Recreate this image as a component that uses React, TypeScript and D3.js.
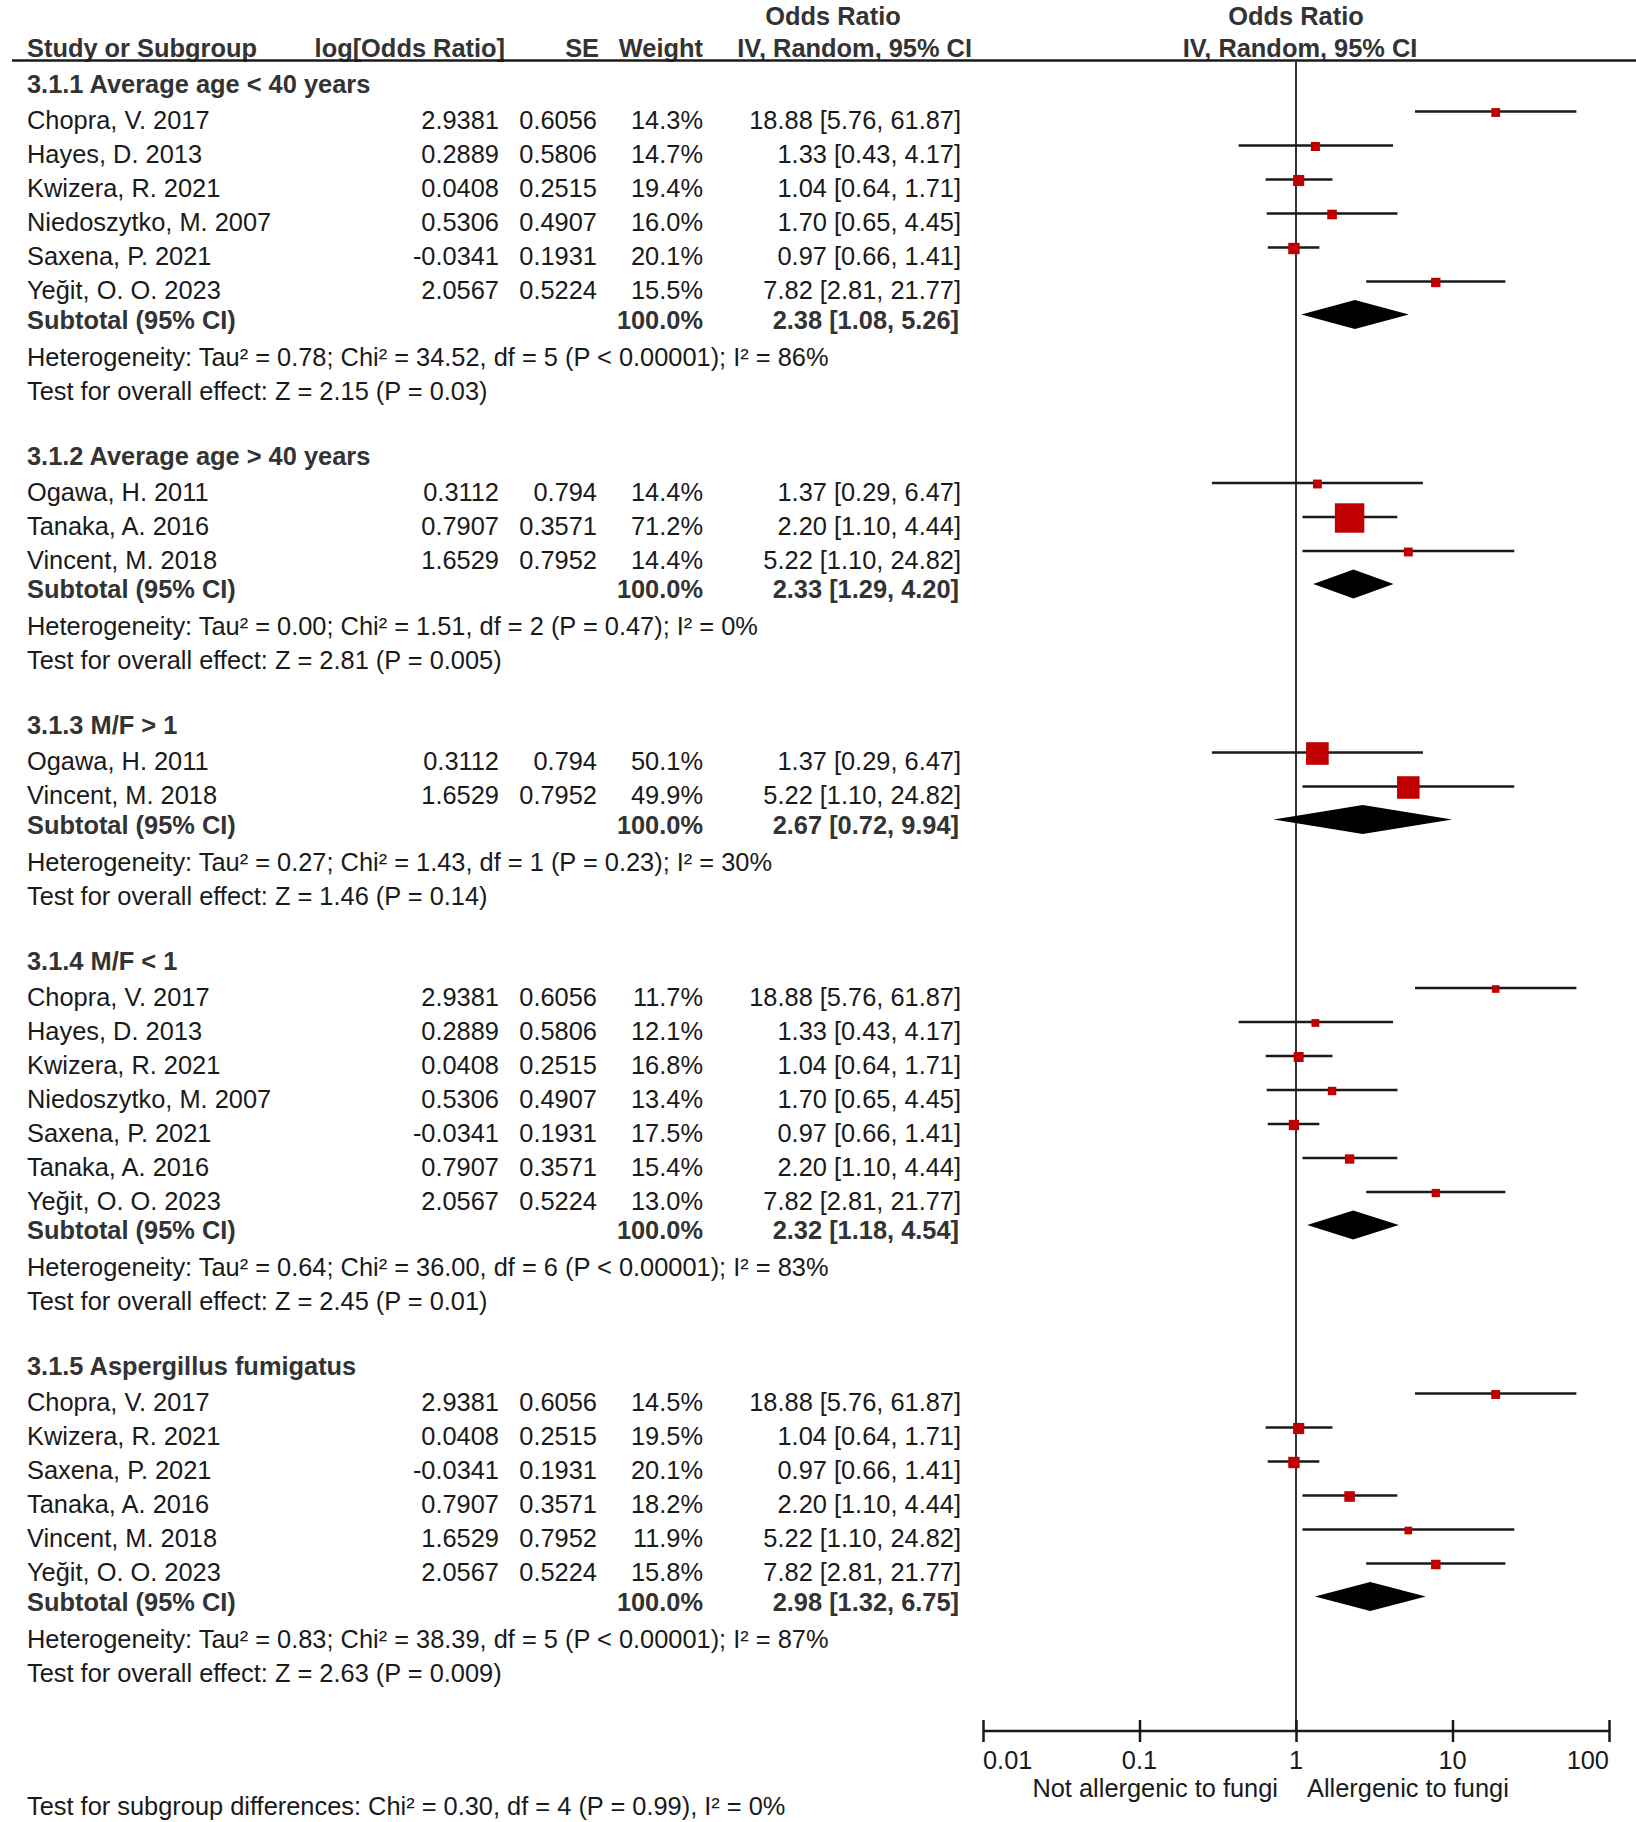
import { useEffect, useRef } from "react";
import * as d3 from "d3";

const STUDY_NAMES = [
  "Chopra, V. 2017",
  "Hayes, D. 2013",
  "Kwizera, R. 2021",
  "Niedoszytko, M. 2007",
  "Saxena, P. 2021",
  "Yeğit, O. O. 2023",
  "Ogawa, H. 2011",
  "Tanaka, A. 2016",
  "Vincent, M. 2018",
];
const LOG_OR = ["2.9381", "0.2889", "0.0408", "0.5306", "-0.0341", "2.0567", "0.3112", "0.7907", "1.6529"];
const SE = ["0.6056", "0.5806", "0.2515", "0.4907", "0.1931", "0.5224", "0.794", "0.3571", "0.7952"];
const OR = [18.88, 1.33, 1.04, 1.7, 0.97, 7.82, 1.37, 2.2, 5.22];
const CI_LOW = [5.76, 0.43, 0.64, 0.65, 0.66, 2.81, 0.29, 1.1, 1.1];
const CI_HIGH = [61.87, 4.17, 1.71, 4.45, 1.41, 21.77, 6.47, 4.44, 24.82];

const SUBGROUPS = [
  "3.1.1 Average age < 40 years",
  "3.1.2 Average age > 40 years",
  "3.1.3 M/F > 1",
  "3.1.4 M/F < 1",
  "3.1.5 Aspergillus fumigatus",
];
// indexes into STUDY_NAMES, in display order
const MEMBERS = [
  [0, 1, 2, 3, 4, 5],
  [6, 7, 8],
  [6, 8],
  [0, 1, 2, 3, 4, 7, 5],
  [0, 2, 4, 7, 8, 5],
];
const WEIGHTS = [
  [14.3, 14.7, 19.4, 16.0, 20.1, 15.5],
  [14.4, 71.2, 14.4],
  [50.1, 49.9],
  [11.7, 12.1, 16.8, 13.4, 17.5, 15.4, 13.0],
  [14.5, 19.5, 20.1, 18.2, 11.9, 15.8],
];
const SUB_OR = [2.38, 2.33, 2.67, 2.32, 2.98];
const SUB_LOW = [1.08, 1.29, 0.72, 1.18, 1.32];
const SUB_HIGH = [5.26, 4.2, 9.94, 4.54, 6.75];
const HETEROGENEITY = [
  "Heterogeneity: Tau² = 0.78; Chi² = 34.52, df = 5 (P < 0.00001); I² = 86%",
  "Heterogeneity: Tau² = 0.00; Chi² = 1.51, df = 2 (P = 0.47); I² = 0%",
  "Heterogeneity: Tau² = 0.27; Chi² = 1.43, df = 1 (P = 0.23); I² = 30%",
  "Heterogeneity: Tau² = 0.64; Chi² = 36.00, df = 6 (P < 0.00001); I² = 83%",
  "Heterogeneity: Tau² = 0.83; Chi² = 38.39, df = 5 (P < 0.00001); I² = 87%",
];
const OVERALL = [
  "Test for overall effect: Z = 2.15 (P = 0.03)",
  "Test for overall effect: Z = 2.81 (P = 0.005)",
  "Test for overall effect: Z = 1.46 (P = 0.14)",
  "Test for overall effect: Z = 2.45 (P = 0.01)",
  "Test for overall effect: Z = 2.63 (P = 0.009)",
];
const SUBGROUP_DIFF = "Test for subgroup differences: Chi² = 0.30, df = 4 (P = 0.99), I² = 0%";
const AXIS_TICKS = [0.01, 0.1, 1, 10, 100];
const AXIS_LABELS = ["0.01", "0.1", "1", "10", "100"];
const FAVOURS = ["Not allergenic to fungi", "Allergenic to fungi"];

const W = 1636;
const H = 1822;
const FONT = "'Liberation Sans', Arial, sans-serif";
const INK = "#1a1a1a";
const BOLD_INK = "#333";
const RED = "#c00000";

const fmtCI = (o: number, l: number, h: number) => `${o.toFixed(2)} [${l.toFixed(2)}, ${h.toFixed(2)}]`;

export default function App() {
  const ref = useRef<SVGSVGElement | null>(null);

  useEffect(() => {
    const svg = d3.select(ref.current);
    svg.selectAll("*").remove();

    const x = d3.scaleLog().domain([0.01, 100]).range([983, 1609]);
    const size = d3.scalePow().exponent(0.75).domain([0, 100]).range([0, 38]);
    const axisY = 1731;

    const g = svg.append("g").attr("font-family", FONT).attr("font-size", 25.4);

    const text = (s: string, tx: number, ty: number, anchor = "start", bold = false) =>
      g
        .append("text")
        .attr("x", tx)
        .attr("y", ty)
        .attr("text-anchor", anchor)
        .attr("font-weight", bold ? "bold" : "normal")
        .attr("fill", bold ? BOLD_INK : INK)
        .text(s);

    // column headers
    text("Odds Ratio", 833, 25, "middle", true);
    text("Odds Ratio", x(1), 25, "middle", true);
    text("Study or Subgroup", 27, 57, "start", true);
    text("log[Odds Ratio]", 505, 57, "end", true);
    text("SE", 599, 57, "end", true);
    text("Weight", 703, 57, "end", true);
    text("IV, Random, 95% CI", 972, 57, "end", true);
    text("IV, Random, 95% CI", x(1) + 4, 57, "middle", true);

    g.append("line").attr("x1", 12).attr("x2", W).attr("y1", 60.5).attr("y2", 60.5)
      .attr("stroke", INK).attr("stroke-width", 2.5);

    // no-effect line
    g.append("line").attr("x1", x(1)).attr("x2", x(1)).attr("y1", 60).attr("y2", axisY)
      .attr("stroke", "#333").attr("stroke-width", 2);

    let y = 93;
    SUBGROUPS.forEach((title, gi) => {
      text(title, 27, y, "start", true);
      y += 36;
      MEMBERS[gi].forEach((si, k) => {
        if (k > 0) y += 34;
        text(STUDY_NAMES[si], 27, y);
        text(LOG_OR[si], 499, y, "end");
        text(SE[si], 597, y, "end");
        text(`${WEIGHTS[gi][k].toFixed(1)}%`, 703, y, "end");
        text(fmtCI(OR[si], CI_LOW[si], CI_HIGH[si]), 961, y, "end");

        const my = y - 17.5;
        g.append("line").attr("x1", x(CI_LOW[si])).attr("x2", x(CI_HIGH[si])).attr("y1", my).attr("y2", my)
          .attr("stroke", INK).attr("stroke-width", 2.5);
        const s = size(WEIGHTS[gi][k]);
        g.append("rect").attr("x", x(OR[si]) - s / 2).attr("y", my + 1 - s / 2).attr("width", s).attr("height", s)
          .attr("fill", RED);
      });

      y += 29.5;
      text("Subtotal (95% CI)", 27, y, "start", true);
      text("100.0%", 703, y, "end", true);
      text(fmtCI(SUB_OR[gi], SUB_LOW[gi], SUB_HIGH[gi]), 959, y, "end", true);
      const dy = y - 14;
      const pts: [number, number][] = [
        [x(SUB_LOW[gi]), dy],
        [x(SUB_OR[gi]), dy - 14.5],
        [x(SUB_HIGH[gi]), dy],
        [x(SUB_OR[gi]), dy + 14.5],
      ];
      g.append("path").attr("d", d3.line()(pts) + "Z").attr("fill", "#000");

      y += 37;
      text(HETEROGENEITY[gi], 27, y);
      y += 34;
      text(OVERALL[gi], 27, y);
      y += 65;
    });

    // log axis
    const ax = g.append("g").attr("transform", `translate(0,${axisY})`)
      .call(d3.axisBottom(x).tickValues(AXIS_TICKS).tickSize(10).tickFormat(() => ""));
    ax.select(".domain").attr("stroke", INK).attr("stroke-width", 2.5)
      .attr("d", `M${x(0.01)},0H${x(100)}`);
    ax.selectAll(".tick line").attr("y1", -11).attr("y2", 11).attr("stroke", INK).attr("stroke-width", 2.5);

    AXIS_TICKS.forEach((t, i) => {
      const anchor = i === 0 ? "start" : i === AXIS_TICKS.length - 1 ? "end" : "middle";
      text(AXIS_LABELS[i], x(t), axisY + 38, anchor);
    });
    text(FAVOURS[0], x(1) - 18, axisY + 66, "end");
    text(FAVOURS[1], x(1) + 11, axisY + 66, "start");

    text(SUBGROUP_DIFF, 27, 1815);
  }, []);

  return (
    <div style={{ position: "absolute", left: 0, top: 0, background: "#fff" }}>
      <svg ref={ref} width={W} height={H} style={{ display: "block" }} />
    </div>
  );
}
